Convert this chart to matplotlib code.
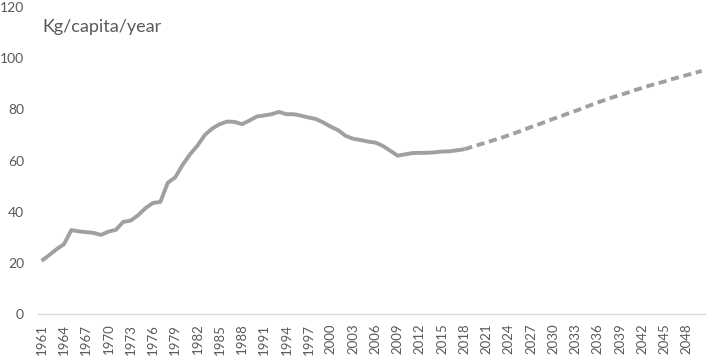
import matplotlib.pyplot as plt
from matplotlib.ticker import FixedLocator

# historical consumption, kg/capita/year
hist_years = list(range(1961, 2019))
hist_values = [
    20.8, 23.0, 25.3, 27.3, 32.8, 32.3, 32.0, 31.7, 30.9, 32.2,
    32.9, 36.0, 36.5, 38.6, 41.4, 43.4, 43.8, 51.3, 53.4, 58.3,
    62.4, 65.8, 70.0, 72.5, 74.2, 75.2, 75.1, 74.2, 75.6, 77.2,
    77.6, 78.1, 79.0, 78.1, 78.1, 77.5, 76.8, 76.2, 74.8, 73.2,
    71.8, 69.6, 68.5, 68.0, 67.4, 67.0, 65.7, 63.8, 61.9, 62.4,
    62.9, 63.0, 63.0, 63.2, 63.5, 63.6, 64.0, 64.4,
]

# projection
proj_years = list(range(2018, 2051))
proj_values = [
    64.4, 65.3, 66.2, 67.1, 68.0, 68.9, 69.9, 70.9, 72.0, 73.1,
    74.1, 75.2, 76.3, 77.3, 78.4, 79.4, 80.5, 81.6, 82.7, 83.7,
    84.7, 85.6, 86.5, 87.5, 88.4, 89.3, 90.1, 90.9, 91.8, 92.6,
    93.4, 94.2, 95.0,
]

tick_years = list(range(1961, 2050, 3))
y_ticks = [0, 20, 40, 60, 80, 100, 120]

LINE = "#A0A0A0"
TXT = "#595959"
plt.rcParams['font.family'] = ['Lato', 'DejaVu Sans']

fig = plt.figure(figsize=(7.08, 3.57), dpi=100)
ax = fig.add_axes([38 / 708, 1 - 314 / 357, 667.4 / 708, 307 / 357])

ax.plot(hist_years, hist_values, '-', color=LINE, linewidth=2.8, solid_capstyle='butt')
ax.plot(proj_years, proj_values, color=LINE, linewidth=2.8, linestyle=(0, (2.1, 1.2)))

ax.set_xlim(1960.5, 2050.5)
ax.set_ylim(0, 120)
ax.xaxis.set_major_locator(FixedLocator(tick_years))
ax.set_xticklabels([str(y) for y in tick_years], rotation=90)
ax.set_yticks(y_ticks)
ax.tick_params(axis='both', length=0, colors=TXT)
ax.tick_params(axis='y', pad=10, labelsize=10)
ax.tick_params(axis='x', pad=7, labelsize=9.5)

for s in ['top', 'right', 'left']:
    ax.spines[s].set_visible(False)
ax.spines['bottom'].set_color("#D9D9D9")
ax.spines['bottom'].set_linewidth(1.0)

fig.text(42 / 708, 1 - 31.7 / 357, "Kg/capita/year", color=TXT, fontsize=13, va='baseline')

fig.savefig("out.png", dpi=100)
